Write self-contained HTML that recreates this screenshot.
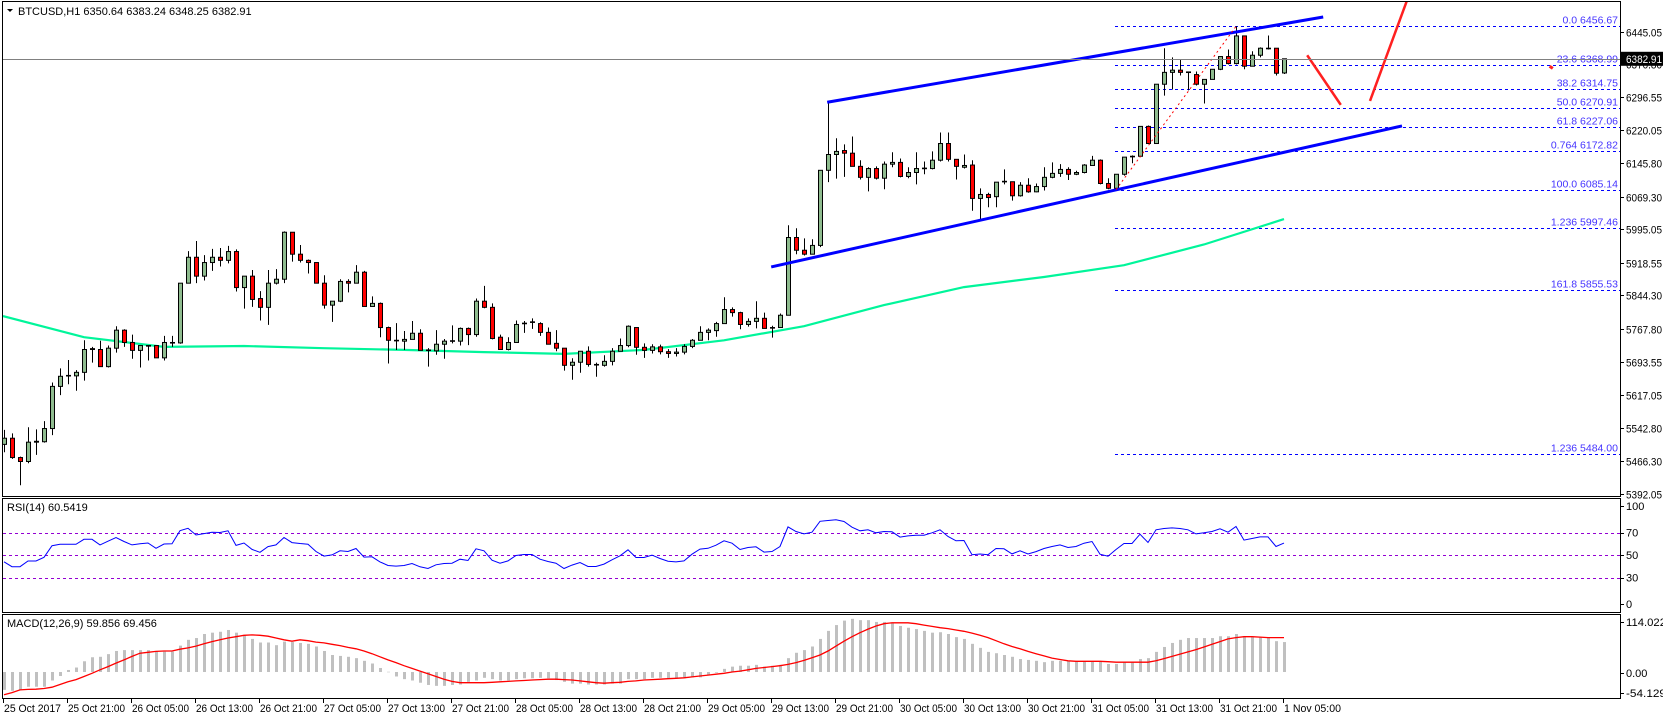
<!DOCTYPE html>
<html><head><meta charset="utf-8"><title>BTCUSD H1</title>
<style>
html,body{margin:0;padding:0;background:#fff;}
svg{display:block;font-family:"Liberation Sans",sans-serif;font-size:11px;}
</style></head>
<body>
<svg id="chart" width="1663" height="720" viewBox="0 0 1663 720" xmlns="http://www.w3.org/2000/svg">
<defs>
<clipPath id="mainClip"><rect x="3" y="2" width="1617" height="494"/></clipPath>
<clipPath id="rsiClip"><rect x="3" y="499" width="1617" height="113"/></clipPath>
<clipPath id="macdClip"><rect x="3" y="615" width="1617" height="83"/></clipPath>
</defs>
<rect x="0" y="0" width="1663" height="720" fill="#fff"/>
</svg>
<script>
// ---- data ----
const opens=[5505,5519,5475,5466,5510,5511,5541,5637,5661,5661,5669,5721,5721,5682,5724,5765,5737,5719,5729,5730,5702,5736,5736,5872,5931,5888,5919,5931,5924,5944,5862,5888,5837,5817,5872,5881,5988,5938,5924,5919,5872,5822,5831,5876,5872,5897,5819,5826,5771,5742,5740,5744,5758,5719,5718,5733,5740,5740,5769,5755,5831,5817,5749,5721,5737,5780,5783,5780,5760,5735,5724,5685,5692,5717,5686,5685,5694,5717,5730,5771,5726,5719,5727,5716,5712,5715,5728,5742,5760,5764,5780,5812,5805,5778,5785,5792,5771,5771,5799,5976,5947,5938,5958,6129,6165,6174,6168,6138,6113,6133,6111,6143,6147,6115,6124,6133,6133,6152,6190,6154,6136,6141,6065,6074,6069,6103,6103,6071,6095,6080,6092,6113,6122,6131,6120,6124,6140,6152,6099,6088,6120,6161,6161,6229,6190,6325,6352,6357,6352,6347,6325,6336,6359,6388,6372,6435,6366,6391,6407,6407,6350.64];
const highs=[5538,5530,5477,5544,5539,5558,5646,5678,5697,5674,5742,5727,5741,5730,5774,5767,5755,5730,5730,5730,5752,5752,5872,5945,5968,5936,5950,5952,5957,5949,5888,5902,5854,5902,5904,5990,5988,5959,5926,5919,5890,5831,5881,5881,5913,5900,5842,5828,5773,5781,5763,5786,5767,5724,5765,5745,5776,5771,5771,5837,5866,5826,5755,5749,5787,5786,5792,5783,5771,5765,5724,5701,5717,5728,5691,5708,5724,5746,5776,5771,5735,5733,5732,5722,5724,5733,5745,5774,5769,5784,5840,5817,5807,5792,5831,5805,5775,5803,6004,5997,5974,5972,6129,6284,6202,6188,6206,6152,6136,6138,6149,6170,6156,6136,6170,6149,6172,6215,6215,6154,6165,6152,6088,6078,6102,6131,6103,6102,6111,6099,6136,6147,6143,6136,6128,6143,6162,6154,6111,6120,6159,6163,6229,6231,6325,6407,6386,6382,6354,6354,6336,6359,6388,6404,6457,6435,6400,6409,6436,6407,6383.24];
const lows=[5487,5472,5412,5462,5481,5509,5526,5617,5642,5627,5650,5691,5682,5680,5714,5727,5700,5680,5696,5702,5696,5727,5734,5872,5872,5878,5900,5910,5917,5853,5814,5818,5787,5777,5869,5872,5921,5919,5894,5872,5814,5784,5829,5851,5872,5819,5819,5749,5689,5720,5720,5744,5719,5682,5709,5700,5735,5730,5731,5750,5815,5744,5721,5719,5737,5759,5768,5752,5733,5717,5673,5652,5668,5682,5659,5682,5685,5717,5726,5709,5702,5712,5710,5702,5705,5710,5724,5742,5742,5750,5780,5796,5767,5773,5769,5769,5748,5771,5799,5938,5935,5938,5954,6102,6110,6114,6138,6108,6081,6108,6086,6136,6113,6111,6097,6120,6131,6149,6149,6108,6133,6037,6017,6045,6045,6097,6060,6069,6078,6079,6083,6111,6114,6107,6118,6122,6140,6097,6086,6086,6117,6145,6159,6189,6189,6299,6313,6345,6311,6322,6281,6336,6357,6370,6370,6359,6366,6386,6404,6345,6348.25];
const closes=[5519,5475,5466,5510,5512,5541,5637,5660,5662,5669,5721,5723,5682,5724,5765,5737,5719,5730,5730,5702,5737,5737,5872,5931,5888,5919,5931,5924,5944,5862,5888,5835,5817,5872,5881,5988,5938,5924,5919,5872,5822,5831,5876,5872,5897,5819,5826,5771,5742,5741,5744,5758,5719,5720,5733,5740,5741,5769,5755,5831,5817,5746,5721,5737,5778,5781,5784,5760,5733,5724,5685,5692,5717,5687,5687,5694,5717,5730,5774,5726,5719,5727,5716,5712,5715,5728,5742,5760,5765,5780,5812,5805,5778,5785,5792,5769,5770,5799,5976,5947,5938,5958,6129,6165,6172,6168,6138,6113,6133,6111,6143,6147,6115,6124,6133,6134,6152,6190,6154,6138,6140,6065,6074,6067,6102,6104,6071,6095,6080,6092,6113,6122,6131,6120,6124,6141,6152,6099,6088,6120,6159,6160,6229,6190,6325,6352,6357,6352,6353,6325,6336,6359,6388,6372,6435,6366,6391,6407,6406,6350,6382.91];
const maValues=[5797,5749,5727,5729,5724,5720,5715,5711,5720,5742,5774,5822,5863,5886,5913,5960,6018];
const maStep=10;
const rsiValues=[44,39.6,39.6,44.7,44.7,48,58.3,59.5,59.5,59.5,64,64,59,62.3,65.6,62,59,60,60.7,56,59.8,60,71.6,73.7,67.8,69,70.2,70,71.5,58.5,60.7,55,52.4,57.5,59,65.6,61,
60.2,59.6,53.1,49,50.1,53.7,53.1,55.8,48.1,48.4,43.9,40.7,40.1,40.7,42.4,39.5,38,41.3,42.4,42.7,46.3,45.1,55.5,53.7,45.4,42.7,44.8,49.6,50.4,50.4,46.3,44.2,42.7,38,41,43.3,39.8,39.8,41.9,45.7,49.3,54.6,47.8,47.8,49.9,46.9,44.5,43.9,44.8,50.7,55.2,56,58.7,62.6,60.5,54.9,56.7,57.3,52.6,53.1,57.6,75,
70.9,68.8,70.3,80,80.7,81.3,79.8,74.7,71.5,72.4,69.7,70.9,70.6,65.9,67,67.6,67.6,69.7,72.4,66.4,62.6,62.9,50.3,50.9,50.3,55.8,55.5,51,53.7,50.9,53,55.8,57.6,59,56.7,57.6,60.5,62,50.7,48.9,54.9,60.2,60.2,68.5,61.1,72.4,73.6,74.1,73.6,72.4,68.8,69.7,70.9,73.3,70.3,75.3,63.2,64.7,66.1,66.1,57.6,60.54];
const macdHist=[-40,-42,-40,-33,-33,-33,-19,-9,4.5,10,24,33,34,40,47,49,49,49,49,47,45.5,45.5,59,72,76,85,88,90,94,88,83,74,66,66,60,68,67,
65,63,57,47,38,36,34,31,25,19,9,0.5,-10,-16,-19,-24,-29,-31,-31,-29,-28,-22,-19,-13,-16,-19,-19,-16,-14,-14,-13,-14,-18,-22,-26,-26,-28,-28,-28,-26,-26,-16,-16,-16,-13,-13,-14,-14,-14,-12,-12,-7,-1.5,7,12,14,14,16,12,14,16,31,
43,49,57,74,92,105,115,119,116,116,112,112,110,103,99,96,92,88,89,85,78,74,63,54,45,42,38,34,29,27,25,22,25,25,25,23,23,23,23,18,18,21,21,29,31,45,56,65,72,76,76,76,76,80,80,85,80,78,78,78,69,67];
const macdSignal=[-51,-46,-40,-39,-38.5,-37,-34,-28,-22,-17,-10,-3,5,12,20,27,35,42,44,46,47,47,51,54,58,63,68,72,76,79,82,83,82,80,76,72,69,
72,70,67,65,62,59,55,52,47,41,34,27,21,14,8,2,-4,-10,-16,-21,-24,-24,-24,-24,-23,-22,-21,-20,-19,-18,-17,-16,-16,-17,-18,-20,-22,-24,-25,-24,-23,-21,-20,-18,-17,-16,-15,-14,-13,-11,-9,-7,-5,-3,0,2,5,8,10,12,14,17,
21,26,32,38,47,58,69,79,88,96,103,108,110,110,110,108,105,102,99,97,94,91,87,82,77,70,63,57,52,46,41,36,31,28,25,24,24,24,24,23,22,22,22,22,22,25,30,35,40,45,50,56,62,68,74,77,79,79,78,77,77,77];
const priceTicks=[6445.05,6370.80,6296.55,6220.05,6145.80,6069.30,5995.05,5918.55,5844.30,5767.80,5693.55,5617.05,5542.80,5466.30,5392.05];
const fibLabels=["0.0","23.6","38.2","50.0","61.8","0.764","100.0","1.236","161.8","1.236"];
const fibPrices=[6456.67,6368.99,6314.75,6270.91,6227.06,6172.82,6085.14,5997.46,5855.53,5484.00];
const timeLabels=["25 Oct 2017","25 Oct 21:00","26 Oct 05:00","26 Oct 13:00","26 Oct 21:00","27 Oct 05:00","27 Oct 13:00","27 Oct 21:00","28 Oct 05:00","28 Oct 13:00","28 Oct 21:00","29 Oct 05:00","29 Oct 13:00","29 Oct 21:00","30 Oct 05:00","30 Oct 13:00","30 Oct 21:00","31 Oct 05:00","31 Oct 13:00","31 Oct 21:00","1 Nov 05:00"];
const timeLabelStep=8;
const rsiLevels=[70,50,30];
const rsiAxisLabels=[100,70,50,30,0];
const lastPrice=6382.91;

// ---- axes ----
const NS="http://www.w3.org/2000/svg";
const svg=document.getElementById('chart');
function xBar(i){return 4+8*i;}
function yPrice(p){return 31.5+(6445.05-p)*0.4392;}
function yRsi(v){return 555-(v-50)*1.125;}
function yMacd(v){return 672-v*0.447;}
function mk(tag,attrs,parent){const e=document.createElementNS(NS,tag);for(const k in attrs)e.setAttribute(k,attrs[k]);(parent||svg).appendChild(e);return e;}

const gMain=mk('g',{'clip-path':'url(#mainClip)'});


const gRsi=mk('g',{'clip-path':'url(#rsiClip)'});


const gMacd=mk('g',{'clip-path':'url(#macdClip)'});



// fib levels
for(let k=0;k<fibPrices.length;k++){
  const y=Math.round(yPrice(fibPrices[k]))+0.5;
  const ln=mk('line',{x1:1115,x2:1620,y1:y,y2:y,stroke:'#0000ff','stroke-width':1,'stroke-dasharray':'3,3'},gMain);
  
  
  const t=mk('text',{x:1618,y:y-3,'text-anchor':'end',fill:'#4433ff','font-size':'10.5'},gMain);
  t.textContent=fibLabels[k]+"  "+fibPrices[k].toFixed(2);
  
  
}

const cpl=mk('line',{x1:3,x2:1620,y1:Math.round(yPrice(lastPrice))+0.5,y2:Math.round(yPrice(lastPrice))+0.5,stroke:'#808080','stroke-width':1});



let d='';
for(let k=0;k<maValues.length;k++){d+=(k?'L':'M')+(xBar(k*maStep)-(k===0?1:0))+','+yPrice(maValues[k]).toFixed(1);}
const ma=mk('path',{d:d,fill:'none',stroke:'#00f59a','stroke-width':2.2},gMain);



for(let i=0;i<closes.length;i++){
  const x=xBar(i);
  const o=opens[i],c=closes[i],h=highs[i],l=lows[i];
  const w=mk('line',{x1:x+0.5,x2:x+0.5,y1:yPrice(h),y2:yPrice(l),stroke:'#000','stroke-width':1},gMain);
  
  
  const top=Math.min(yPrice(o),yPrice(c)),bot=Math.max(yPrice(o),yPrice(c));
  const up=c>=o;
  const b=mk('rect',{x:x-1.5,y:top,width:4,height:Math.max(bot-top,0.6),fill:up?'#8fbc8f':'#ff0000',stroke:'#000','stroke-width':1},gMain);
  
  
}

const upperChannel=[[102.9,6284],[164.9,6478]];
const lowerChannel=[[95.9,5909],[174.75,6230]];
function seg(pts,color,width,name,dash){
  const e=mk('line',{x1:xBar(pts[0][0]),y1:yPrice(pts[0][1]),x2:xBar(pts[1][0]),y2:yPrice(pts[1][1]),stroke:color,'stroke-width':width},gMain);
  if(dash)e.setAttribute('stroke-dasharray',dash);
  
  
  return e;
}
seg(upperChannel,'#0000ff',3,'upper-channel-line');
seg(lowerChannel,'#0000ff',3,'lower-channel-line');
seg([[139,6085.14],[154,6456.67]],'#ff0000',1,'fib-swing-line','2,3');
seg([[162.9,6391],[167.1,6278]],'#ff2020',2.5,'projection-down-line');
seg([[170.75,6287],[175.4,6517]],'#ff2020',2.5,'projection-up-line');
seg([[193.2,6366],[193.6,6361]],'#ff2020',3,'red-marker');

// price axis
for(let k=0;k<priceTicks.length;k++){
  const y=Math.round(yPrice(priceTicks[k]))+0.5;
  const tk=mk('line',{x1:1620,x2:1624,y1:y,y2:y,stroke:'#000'});
  
  
  const t=mk('text',{x:1626,y:y+4,fill:'#000',textLength:36,lengthAdjust:'spacingAndGlyphs'});
  t.textContent=priceTicks[k].toFixed(2);
  
  
}
const ly=yPrice(lastPrice);
const box=mk('rect',{x:1621,y:ly-7,width:42,height:14,fill:'#000'});


const lpt=mk('text',{x:1626,y:ly+4,fill:'#fff',textLength:36,lengthAdjust:'spacingAndGlyphs'});
lpt.textContent=lastPrice.toFixed(2);



// RSI
for(const lv of rsiLevels){
  const y=Math.round(yRsi(lv))+0.5;
  const e=mk('line',{x1:3,x2:1620,y1:y,y2:y,stroke:'#9400d3','stroke-dasharray':'3,3'},gRsi);
  
  
}
let rd='';
for(let i=0;i<rsiValues.length;i++){rd+=(i?'L':'M')+xBar(i)+','+yRsi(rsiValues[i]).toFixed(1);}
const rl=mk('path',{d:rd,fill:'none',stroke:'#0000ff','stroke-width':1},gRsi);


for(const v of rsiAxisLabels){
  const y=v===100?506:(v===0?604:yRsi(v));
  const t=mk('text',{x:1626,y:y+4,fill:'#000'});
  t.textContent=String(v);
  
  
  const tk=mk('line',{x1:1620,x2:1624,y1:Math.round(y)+0.5,y2:Math.round(y)+0.5,stroke:'#000'});
  
  
}

// MACD
for(let i=0;i<macdHist.length;i++){
  const y0=yMacd(0),y1=yMacd(macdHist[i]);
  const r=mk('rect',{x:xBar(i)-1,y:Math.min(y0,y1),width:3,height:Math.max(Math.abs(y1-y0),0.5),fill:'#c0c0c0'},gMacd);
  
  
}
let sd='';
for(let i=0;i<macdSignal.length;i++){sd+=(i?'L':'M')+xBar(i)+','+yMacd(macdSignal[i]).toFixed(1);}
const sl=mk('path',{d:sd,fill:'none',stroke:'#ff0000','stroke-width':1.3},gMacd);


const macdLabelText=["114.022","0.00","-54.129"];
const macdLabelY=[622,673,693];
for(let k=0;k<3;k++){
  const t=mk('text',{x:1626,y:macdLabelY[k]+4,fill:'#000'});
  if(macdLabelText[k].length>5){t.setAttribute('textLength','40');t.setAttribute('lengthAdjust','spacingAndGlyphs');}
  t.textContent=macdLabelText[k];
  
  
  const tk=mk('line',{x1:1620,x2:1624,y1:macdLabelY[k]+0.5,y2:macdLabelY[k]+0.5,stroke:'#000'});
  
  
}

// time axis
for(let k=0;k<timeLabels.length;k++){
  const x=xBar(k*timeLabelStep)-1;
  const tk=mk('line',{x1:x+0.5,x2:x+0.5,y1:699,y2:703,stroke:'#000'});
  
  
  const t=mk('text',{x:x+1,y:712,fill:'#000',textLength:57,lengthAdjust:'spacingAndGlyphs'});
  t.textContent=timeLabels[k];
  
  
}

// frames
const frames=[[2.5,1.5,1618,495,'price-panel-frame'],[2.5,498.5,1618,114,'rsi-panel-frame'],[2.5,614.5,1618,84,'macd-panel-frame']];
for(const f of frames){
  const r=mk('rect',{x:f[0],y:f[1],width:f[2],height:f[3],fill:'none',stroke:'#000','stroke-width':1});
  
  
}

const tri=mk('path',{d:'M7,9 L13,9 L10,12 Z',fill:'#000'});


const title=mk('text',{x:18,y:15,fill:'#000'});
title.textContent='BTCUSD,H1  6350.64 6383.24 6348.25 6382.91';


const rt=mk('text',{x:7,y:511,fill:'#000'});
rt.textContent='RSI(14) 60.5419';


const mt=mk('text',{x:7,y:627,fill:'#000'});
mt.textContent='MACD(12,26,9) 59.856 69.456';


</script>
</body></html>
